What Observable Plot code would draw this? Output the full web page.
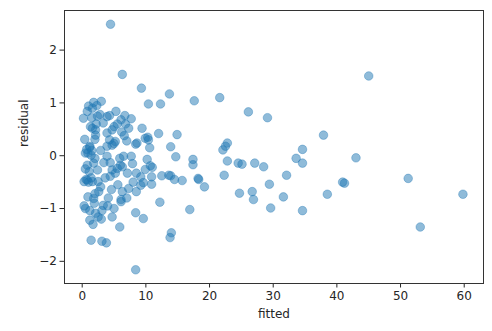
<!DOCTYPE html>
<html>
<head>
<meta charset="utf-8">
<script src="https://cdn.jsdelivr.net/npm/d3@7"></script>
<script src="https://cdn.jsdelivr.net/npm/@observablehq/plot@0.6"></script>
<style>
  html, body { margin: 0; padding: 0; background: #fff; }
  #chart { width: 492px; height: 331px; }
</style>
</head>
<body>
<div id="chart"></div>
<script>
const fitted = [
  13.7,17.6,21.6,26.1,29.1,14.9,13.9,14.7,17.4,17.4,22.1,22.8,22.5,22.8,24.5,25.1,27.1,28.5,33.6,34.6,
  34.6,37.9,38.5,13.9,14.5,15.7,18.2,18.3,19.2,22.3,24.7,26.7,26.9,29.4,32.1,31.6,29.6,34.6,16.9,14.0,
  13.8,45.0,43.0,40.9,41.2,51.2,59.8,53.1,12.5,12.2,12.0,12.3,
  4.45,6.3,9.3,10.4,3.0,1.8,1.0,2.3,0.2,0.8,1.6,2.4,3.9,4.3,5.3,6.7,6.1,6.8,5.5,5.0,7.3,9.4,10.3,
  1.6,2.1,3.9,4.7,2.1,0.4,2.0,4.3,5.2,7.0,8.4,9.9,10.6,1.2,3.9,4.7,1.2,0.5,1.4,2.9,5.0,8.6,10.4,
  3.9,6.5,7.7,10.2,0.8,1.8,3.4,4.4,6.0,7.9,9.9,11.0,10.7,13.6,2.4,4.7,5.5,6.3,0.3,0.8,1.6,2.5,
  4.4,5.2,7.1,8.5,9.2,10.9,10.9,2.9,4.6,6.3,7.3,8.5,9.2,9.6,2.6,0.9,1.8,3.3,0.5,1.2,2.1,3.1,5.0,
  6.1,6.1,4.7,2.5,1.2,8.4,9.6,5.9,1.4,3.1,3.8,8.4,
  0.6,1.0,1.4,0.9,0.7,1.5,2.0,1.1,0.5,2.2,1.3,3.3,2.8,1.5,6.2,7.7,6.6,5.9,3.6,2.0,4.1,5.6,3.0,4.0,
  1.9,8.0,7.0,0.3,1.7
];
const residual = [
  1.17,1.04,1.10,0.83,0.72,0.40,0.17,-0.02,-0.07,-0.17,0.11,0.24,0.18,-0.10,-0.14,-0.16,-0.14,-0.21,-0.05,0.12,
  -0.14,0.39,-0.73,-0.38,-0.45,-0.47,-0.43,-0.45,-0.59,-0.37,-0.71,-0.68,-0.83,-0.54,-0.37,-0.78,-0.99,-1.04,-1.02,-1.46,
  -1.55,1.51,-0.04,-0.50,-0.52,-0.43,-0.73,-1.35,-0.38,-0.88,0.42,0.98,
  2.49,1.54,1.28,0.98,1.03,1.01,0.94,0.95,0.71,0.84,0.90,0.75,0.74,0.76,0.84,0.76,0.68,0.60,0.60,0.55,0.52,0.52,0.35,
  0.52,0.49,0.43,0.49,0.39,0.31,0.31,0.30,0.27,0.28,0.22,0.33,0.15,0.18,0.18,0.20,0.16,0.05,0.01,0.10,0.23,0.24,0.30,
  -0.01,-0.01,-0.01,-0.07,-0.18,-0.14,-0.13,-0.13,-0.18,-0.15,-0.26,-0.22,-0.19,-0.37,-0.27,-0.27,-0.24,-0.21,-0.49,-0.46,-0.49,-0.49,
  -0.39,-0.33,-0.33,-0.33,-0.40,-0.40,-0.54,-0.59,-0.64,-0.68,-0.62,-0.68,-0.56,-0.51,-0.68,-0.78,-0.81,-0.94,-1.00,-1.04,-1.09,-1.04,-1.00,
  -0.87,-0.83,-1.16,-1.16,-1.22,-1.08,-1.19,-1.35,-1.60,-1.62,-1.65,-2.16,
  -0.45,-0.50,-0.42,0.05,0.12,0.10,-0.05,-0.30,-0.25,0.60,0.55,0.62,0.78,0.72,0.45,0.70,0.38,-0.05,-0.42,-0.72,-0.80,-0.55,-1.20,-0.95,
  -0.90,-0.50,-0.80,-0.95,-1.30
];
const xTicks = [0, 10, 20, 30, 40, 50, 60];
const yTicks = [-2, -1, 0, 1, 2];
const xLabel = "fitted";
const yLabel = "residual";

const data = fitted.map((f, i) => ({fitted: f, residual: residual[i]}));
const fmt = d => d < 0 ? "\u2212" + Math.abs(d) : String(d);

const chart = Plot.plot({
  width: 492,
  height: 331,
  marginLeft: 64,
  marginRight: 9,
  marginTop: 10,
  marginBottom: 48,
  style: {fontFamily: "DejaVu Sans", fontSize: "12px", color: "#262626", background: "#fff"},
  x: {domain: [-2.78, 63.03], ticks: xTicks, tickFormat: fmt, tickSize: 4.5, tickPadding: 3, label: null},
  y: {domain: [-2.42, 2.75], ticks: yTicks, tickFormat: fmt, tickSize: 4.5, tickPadding: 3, label: null},
  marks: [
    Plot.dot(data, {x: "fitted", y: "residual", r: 4.3, fill: "#1f77b4", fillOpacity: 0.5, stroke: "#1f77b4", strokeOpacity: 0.45, strokeWidth: 0.8}),
    Plot.frame({stroke: "#333", strokeWidth: 1}),
    Plot.text([xLabel], {frameAnchor: "bottom", dy: 34, text: d => d, fontSize: 12, fill: "#262626"}),
    Plot.text([yLabel], {frameAnchor: "left", dx: -40, rotate: -90, text: d => d, fontSize: 12, fill: "#262626"})
  ]
});
document.getElementById("chart").appendChild(chart);
</script>
</body>
</html>
